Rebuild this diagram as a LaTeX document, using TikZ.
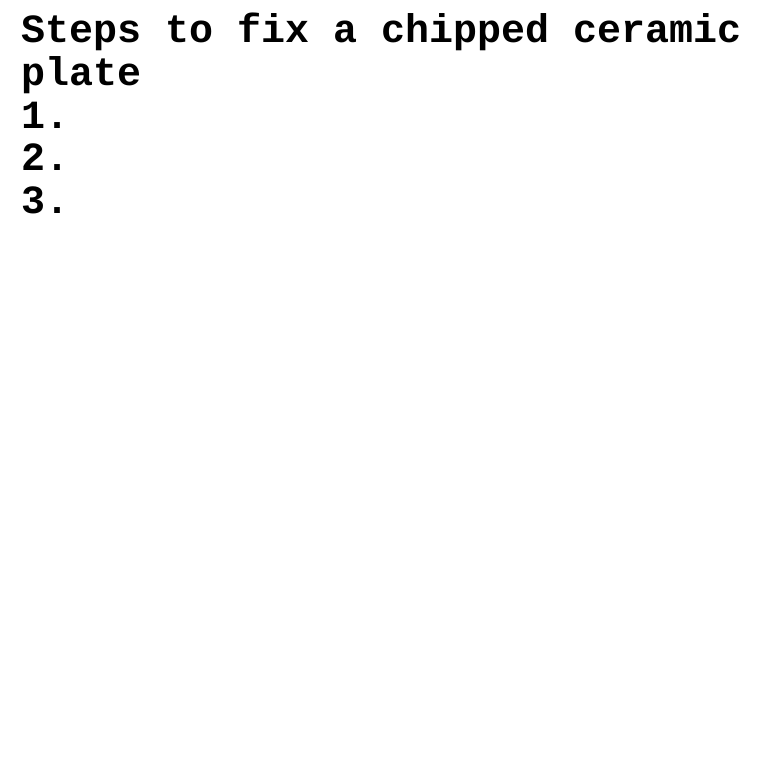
\documentclass[tikz,border=0pt]{standalone}
\usepackage{fontspec}
\setmonofont{Liberation Mono}
\usetikzlibrary{positioning}

\begin{document}
\begin{tikzpicture}[x=1pt,y=1pt,node distance=42.5pt,
    txt/.style={inner sep=0pt,font=\fontsize{40}{42.5}\selectfont\ttfamily\bfseries}]

                \useasboundingbox (0,0) rectangle (760,-760);

                \node[txt,anchor=base west] (title) at (21,-43) {Steps to fix a chipped ceramic};

                \node[txt] (title2) [below=of title.base west,anchor=base west] {plate};

                \node[txt] (s1) [below=of title2.base west,anchor=base west] {1.};

                \node[txt] (s2) [below=of s1.base west,anchor=base west] {2.};

                \node[txt] (s3) [below=of s2.base west,anchor=base west] {3.};

            \end{tikzpicture}
\end{document}
